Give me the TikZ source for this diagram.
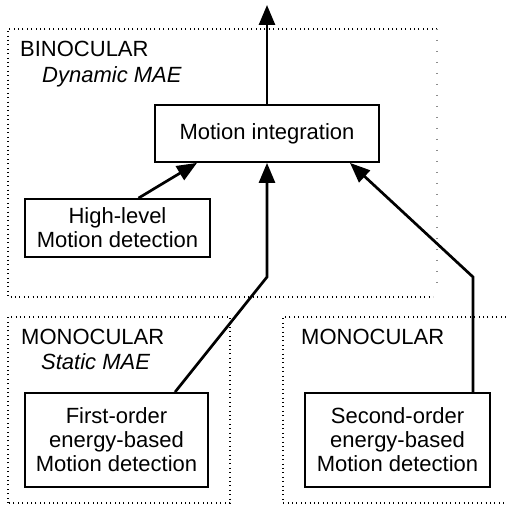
\documentclass[tikz,border=0pt]{standalone}
\usepackage{fontspec}
\setmainfont{Liberation Sans}
\usetikzlibrary{arrows.meta}

\begin{document}
\begin{tikzpicture}[x=1pt,y=1pt,
  every node/.style={font=\fontsize{22}{24}\selectfont},
  detector/.style={draw=drawColor,line width=1.8pt,align=center,inner sep=0pt},
  region/.style={draw=drawColor,line width=1.8pt,dash pattern=on 1pt off 3.4pt},
  faintregion/.style={draw=drawColor!45,line width=1.4pt,dash pattern=on 1pt off 10pt},
  regiontitle/.style={anchor=base west,inner sep=0pt},
  flow/.style={draw=drawColor,line width=2.7pt,-{Triangle[length=20pt,width=16pt]}}]
\definecolor{drawColor}{RGB}{0,0,0}
\path[use as bounding box,fill=white] (0,0) rectangle (506,509);

% dotted regions
\draw[region] (437,480) -- (8,480) -- (8,212) -- (433,212);
\draw[faintregion] (437,480) -- (437,222);
\draw[region] (8,6) rectangle (230,192);
\draw[region] (506,192) -- (283,192) -- (283,6) -- (506,6);

% region titles
\node[regiontitle] (bino) at (20,452) {BINOCULAR};
\node[regiontitle] (dyn) at (42,426) {\itshape Dynamic MAE};
\node[regiontitle] (monol) at (21,164) {MONOCULAR};
\node[regiontitle] (stat) at (41,139) {\itshape Static MAE};
\node[regiontitle] (monor) at (301,164) {MONOCULAR};

% detectors
\node[detector,minimum width=224pt,minimum height=57pt] (mi) at (267,375.5) {Motion integration};
\node[detector,minimum width=185pt,minimum height=58pt] (hl) at (117.5,281) {High-level\\Motion detection};
\node[detector,minimum width=183pt,minimum height=94pt] (fo) at (116.5,69) {First-order\\energy-based\\Motion detection};
\node[detector,minimum width=185pt,minimum height=94pt] (so) at (397.5,69) {Second-order\\energy-based\\Motion detection};

% connections
\coordinate (out) at (267,504);
\coordinate (fobend) at (267,232);
\coordinate (sobend) at (473,232);
\draw[flow] (mi.north) -- (out);
\draw[flow] ([xshift=21pt]hl.north) -- ([xshift=-70pt]mi.south);
\draw[flow] ([xshift=58.5pt]fo.north) -- (fobend) -- (mi.south);
\draw[flow] ([xshift=75.5pt]so.north) -- (sobend) -- ([xshift=83pt]mi.south);
\end{tikzpicture}
\end{document}
